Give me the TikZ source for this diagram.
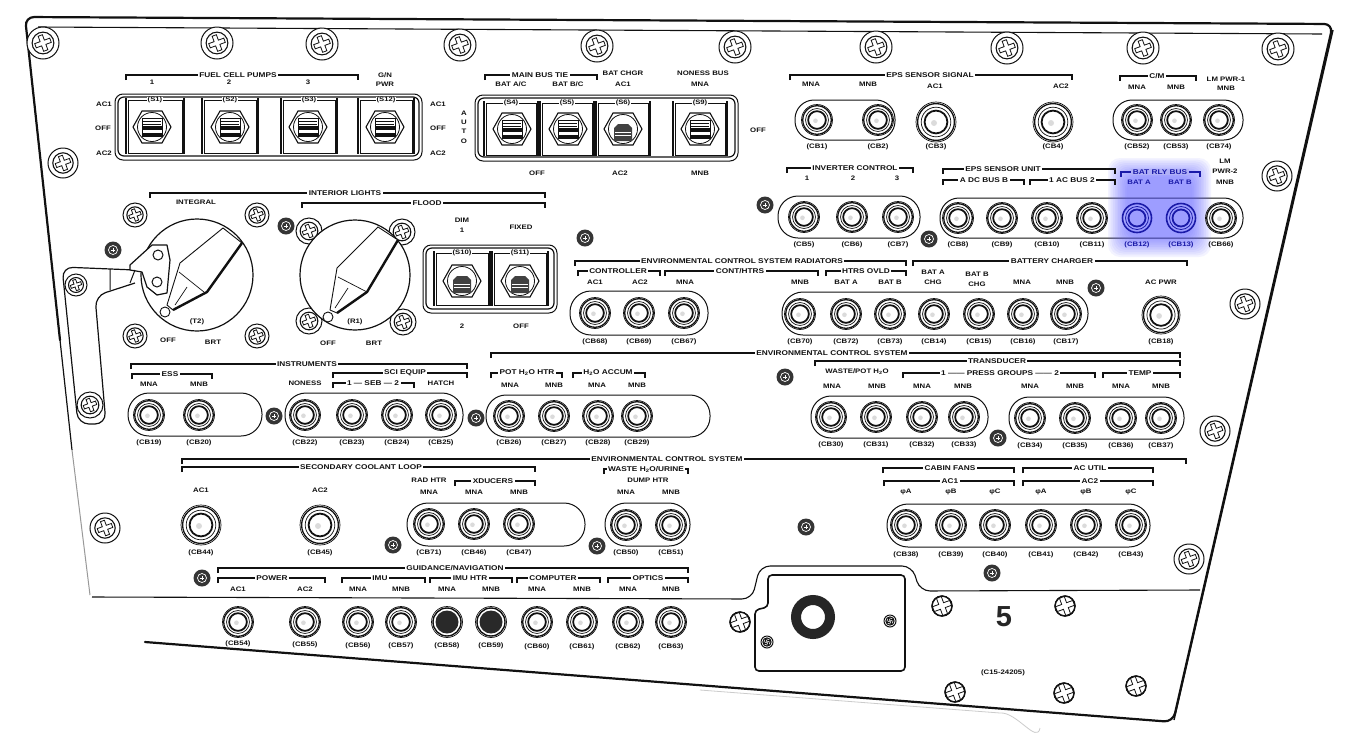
\documentclass[tikz,border=0pt]{standalone}
\usepackage{fontspec}
\setmainfont{Liberation Sans}
\newfontfamily\plab[FakeStretch=1.2]{Liberation Sans}
\definecolor{panelink}{HTML}{111111}
\definecolor{glowblue}{HTML}{1A1AA8}
\definecolor{glowbg}{HTML}{B0B0F6}
\colorlet{ink}{panelink}
\colorlet{bg}{white}
\newcount\pn
% text
\newcommand\ptx[3]{\global\advance\pn by 1 \node[text=ink,inner sep=0pt,font=\plab\fontsize{6.5}{7}\selectfont\bfseries] (t\the\pn) at (#1,#2) {#3};}
% bracket
\newcommand\pbr[5]{\draw[ink,line width=1.1pt] (#1,#2) ++(0,5) -- ++(0,-5) -- (#3,#2) -- ++(0,5);
 \global\advance\pn by 1 \node[fill=bg,text=ink,inner ysep=0.5pt,inner xsep=1.5pt,font=\plab\fontsize{6.9}{7}\selectfont\bfseries] (t\the\pn) at (#4,#2) {#5};}
% ring screw
\newcommand\pcross[3]{\begin{scope}[shift={(#1,#2)},rotate=20]
 \draw[ink,line width=0.8pt,fill=white] (-#3,-0.28*#3) -- (-0.28*#3,-0.28*#3) -- (-0.28*#3,-#3) -- (0.28*#3,-#3) -- (0.28*#3,-0.28*#3) -- (#3,-0.28*#3) -- (#3,0.28*#3) -- (0.28*#3,0.28*#3) -- (0.28*#3,#3) -- (-0.28*#3,#3) -- (-0.28*#3,0.28*#3) -- (-#3,0.28*#3) -- cycle;
 \end{scope}}
\newcommand\pscrew[3]{\draw[ink,line width=1pt,fill=white] (#1,#2) circle[radius=#3];
 \draw[ink,line width=1.1pt] (#1,#2) circle[radius=0.68*#3];
 \pcross{#1}{#2}{0.5*#3}}
% plain screw
\newcommand\pplain[3]{\draw[ink,line width=1.3pt,fill=white] (#1,#2) circle[radius=#3];
 \pcross{#1}{#2}{0.92*#3}
 \draw[ink,line width=1.3pt] (#1,#2) circle[radius=#3];}
% dark screw
\newcommand\pdark[2]{\fill[ink!85] (#1,#2) circle[radius=8.5];
 \draw[white,line width=0.7pt] (#1,#2) circle[radius=4.5];
 \draw[white,line width=0.7pt] (#1,#2) ++(-2,0) -- ++(4,0) (#1,#2) ++(0,-2) -- ++(0,4);}
% breaker: [radius]{x}{y}{label y}{label}
\newcommand\pcb[5][15.5]{\draw[ink,line width=0.7pt,fill=white] (#2,#3) circle[radius=#1];
 \draw[ink,line width=1.3pt] (#2,#3) circle[radius=0.92*#1];
 \draw[ink,line width=0.7pt] (#2,#3) circle[radius=0.74*#1];
 \draw[ink,line width=1.8pt] (#2,#3) circle[radius=0.57*#1];
 \fill[ink,opacity=0.15] (#2,#3) ++(-0.1*#1,0.05*#1) circle[radius=0.15*#1];
 \ptx{#2}{#4}{(#5)}}
\newcommand\pcbd[4]{\draw[ink,line width=0.7pt,fill=white] (#1,#2) circle[radius=15.5];
 \draw[ink,line width=1.4pt] (#1,#2) circle[radius=14];
 \fill[ink!90] (#1,#2) circle[radius=11.5];
 \ptx{#1}{#3}{(#4)}}
% pill
\newcommand\ppill[5]{\draw[ink,line width=1pt,rounded corners=#5pt] (#1,#2) rectangle (#3,#4);}
% switch cell
\newcommand\pcell[5]{\draw[ink,line width=0.9pt] (#1,#2) rectangle (#3,#4);
 \draw[ink,line width=2.2pt] (#1-2,#2-2) -- (#1-2,#4+1) (#3+2,#2-2) -- (#3+2,#4+1);
 \global\advance\pn by 1 \node[fill=white,text=ink,inner ysep=0.3pt,inner xsep=1pt,font=\plab\fontsize{6.4}{7}\selectfont\bfseries] (t\the\pn) at ({0.5*(#1+#3)},#2) {(#5)};}
% hex toggle, lever up
\newcommand\phexbase[2]{\draw[ink,line width=1.1pt,fill=white] (#1-19,#2) -- (#1-10,#2-16) -- (#1+10,#2-16) -- (#1+19,#2) -- (#1+10,#2+16) -- (#1-10,#2+16) -- cycle;
 \draw[ink,line width=0.8pt] (#1,#2) circle[radius=14.5];}
\newcommand\phex[2]{\phexbase{#1}{#2}
 \draw[ink,line width=0.8pt] (#1-10,#2-9) rectangle (#1+10,#2+9);
 \fill[ink] (#1-10,#2-1) rectangle (#1+10,#2+2.5);
 \fill[ink] (#1-10,#2+6) rectangle (#1+10,#2+9);
 \draw[ink,line width=0.5pt] (#1-9,#2-6) -- (#1+9,#2-6) (#1-9,#2-3) -- (#1+9,#2-3);}
% lever down
\newcommand\phexd[2]{\phexbase{#1}{#2}
 \fill[ink!80] (#1-9,#2-1) -- (#1-5,#2-5) -- (#1+5,#2-5) -- (#1+9,#2-1) -- (#1+9,#2+12) -- (#1-9,#2+12) -- cycle;
 \draw[white,line width=0.5pt] (#1-8,#2+3) -- (#1+8,#2+3) (#1-8,#2+6) -- (#1+8,#2+6);}
\begin{document}
\begin{tikzpicture}[x=1pt,y=-1pt]
\useasboundingbox (0,0) rectangle (1348,737);
\fill[white] (0,0) rectangle (1348,737);
% ---------- panel outline
\draw[panelink,line width=2.2pt,line cap=round,rounded corners=9pt] (60,340) -- (25,17) -- (1333,24) -- (1173,722) -- (145,642);
\draw[panelink,line width=1.4pt] (1333,30) -- (1174,720);
\draw[panelink,line width=1.2pt] (60,340) -- (72,450);
\draw[black!40,line width=1pt] (72,450) -- (90,595);
\draw[panelink,line width=1.1pt] (38,27) -- (1322,34);
\draw[black!20,line width=0.8pt] (700,690) -- (1000,713) to[out=5,in=-100] (1040,728);
% lower plate line with cut-out
\draw[panelink,line width=1.1pt,rounded corners=10pt] (92,597) -- (752,599) -- (760,566) -- (912,566) -- (920,591) -- (1200,590);
% cover plate
\draw[panelink,line width=1.6pt,rounded corners=4pt] (768,575) -- (905,575) -- (905,671) -- (755,671) -- (755,610) -- (768,607) -- cycle;
\draw[black!85,line width=10pt] (813,617) circle[radius=17];
\pscrew{767}{642}{6}
\pscrew{890}{621}{6}
% ---------- large screws
\pscrew{43}{43}{16}\pscrew{217}{43}{16}\pscrew{322}{44}{16}\pscrew{460}{45}{16}
\pscrew{597}{46}{16}\pscrew{735}{47}{16}\pscrew{876}{47}{16}\pscrew{1007}{48}{16}
\pscrew{1143}{48}{16}\pscrew{1278}{49}{16}
\pscrew{63}{163}{15}\pscrew{1277}{176}{15}\pscrew{1245}{304}{15}\pscrew{1189}{559}{15}
\pscrew{105}{528}{15}\pscrew{90}{405}{13}\pscrew{1215}{431}{15}
% plain screws
\pplain{740}{622}{10}\pplain{942}{606}{10}\pplain{1065}{606}{10}
\pplain{955}{692}{10}\pplain{1064}{693}{10}\pplain{1136}{686}{10}
% dark screws
\pdark{113}{250}\pdark{286}{226}\pdark{585}{238}\pdark{765}{205}\pdark{929}{239}
\pdark{1096}{288}\pdark{785}{377}\pdark{274}{416}\pdark{476}{418}\pdark{998}{438}
\pdark{393}{545}\pdark{597}{546}\pdark{202}{578}\pdark{992}{573}\pdark{806}{527}
% ---------- switch panels
\draw[ink,line width=1pt,rounded corners=8pt] (115,94) rectangle (422,160);
\draw[ink,line width=1.2pt,rounded corners=6pt] (118,97) rectangle (419,156);
\pcell{128}{100}{182}{153}{S1}\pcell{204}{100}{256}{153}{S2}\pcell{283}{100}{335}{153}{S3}\pcell{360}{100}{412}{153}{S12}
\phex{152}{127}\phex{230}{127}\phex{308}{127}\phex{385}{127}
\draw[ink,line width=1pt,rounded corners=8pt] (475,95) rectangle (738,161);
\draw[ink,line width=1.2pt,rounded corners=6pt] (478,98) rectangle (735,157);
\pcell{486}{103}{536}{155}{S4}\pcell{542}{103}{592}{155}{S5}\pcell{598}{103}{648}{155}{S6}\pcell{675}{103}{725}{155}{S9}
\phex{512}{129}\phex{568}{129}\phexd{623}{129}\phex{700}{129}
\draw[ink,line width=1pt,rounded corners=8pt] (423,245) rectangle (557,313);
\draw[ink,line width=1.2pt,rounded corners=6pt] (426,248) rectangle (554,309);
\pcell{436}{253}{488}{305}{S10}\pcell{494}{253}{546}{305}{S11}
\phexd{462}{281}\phexd{520}{281}
% ---------- strap
\draw[ink,line width=1.2pt,rounded corners=11pt] (135,270) -- (62,267) -- (78,424) -- (106,424) -- (95,296) -- (135,283);
\pscrew{76}{285}{11}
% ---------- rotary switches
\pscrew{135}{215}{12}\pscrew{257}{215}{12}\pscrew{135}{336}{12}\pscrew{257}{336}{12}
\pscrew{309}{231}{13}\pscrew{402}{232}{13}\pscrew{309}{321}{13}\pscrew{403}{322}{13}
\draw[ink,line width=1.2pt,fill=white] (197,275) circle[radius=56];
\draw[ink,line width=1.2pt,fill=white] (355,275) circle[radius=55];
\draw[ink,line width=1.2pt,fill=white,line join=round] (130,265) -- (152,245) -- (167,245) -- (170,260) -- (167,293) -- (157,295) -- (147,287) -- (142,272) -- (130,270) -- cycle;
\draw[ink,line width=1pt] (158,255) circle[radius=5] (157,282) circle[radius=5];
\draw[ink,line width=1pt] (135,270) -- (130,283) (110,269) -- (110,290);
\draw[ink,line width=0.9pt,fill=white] (173,310) -- (167,305) -- (180,263) -- (223,228) -- (242,243) -- (207,292) -- cycle;
\draw[ink,line width=2.4pt] (242,243) -- (207,292) -- (173,310);
\draw[ink,line width=0.7pt] (179,272) -- (204,292) (187,287) -- (175,305);
\draw[ink,line width=0.9pt,fill=white] (165,312) circle[radius=5];
\draw[ink,line width=0.9pt,fill=white] (337,313) -- (330,310) -- (337,268) -- (378,227) -- (398,240) -- (367,292) -- cycle;
\draw[ink,line width=2.4pt] (398,240) -- (367,292) -- (337,313);
\draw[ink,line width=0.7pt] (338,277) -- (367,292) (348,288) -- (335,308);
\draw[ink,line width=0.9pt,fill=white] (328,317) circle[radius=5];
% ---------- pills
\ppill{795}{100}{895}{140}{19}\ppill{1113}{100}{1243}{140}{19}
\ppill{778}{196}{920}{238}{20}\ppill{940}{198}{1243}{238}{19}
\ppill{570}{291}{708}{335}{21}\ppill{782}{292}{1088}{335}{21}
\ppill{128}{393}{262}{436}{21}\ppill{285}{393}{463}{437}{21}\ppill{486}{395}{710}{437}{20}
\ppill{811}{396}{988}{438}{20}\ppill{1009}{397}{1184}{439}{20}
\ppill{407}{503}{585}{546}{21}\ppill{605}{503}{690}{546}{21}\ppill{887}{504}{1150}{547}{21}
% ---------- glow
\foreach \g in {0,...,11}{
 \fill[blue!65!white,opacity=0.065,rounded corners=12pt] (1108+\g*1.7,158+\g*1.7) rectangle (1211-\g*1.7,257-\g*1.7);}
% ---------- switch panel labels
\pbr{126}{75}{358}{238}{FUEL CELL PUMPS}
\ptx{152}{82}{1}\ptx{229}{82}{2}\ptx{308}{82}{3}
\ptx{385}{75}{G/N}\ptx{385}{84}{PWR}
\ptx{104}{104}{AC1}\ptx{103}{128}{OFF}\ptx{104}{153}{AC2}
\ptx{438}{104}{AC1}\ptx{438}{128}{OFF}\ptx{438}{153}{AC2}
\pbr{485}{75}{597}{540}{MAIN BUS TIE}
\ptx{511}{84}{BAT A/C}\ptx{568}{84}{BAT B/C}
\ptx{623}{73}{BAT CHGR}\ptx{623}{84}{AC1}
\ptx{703}{73}{NONESS BUS}\ptx{700}{84}{MNA}
\ptx{464}{113}{A}\ptx{464}{122}{U}\ptx{464}{131}{T}\ptx{464}{141}{O}
\ptx{758}{130}{OFF}\ptx{537}{173}{OFF}\ptx{620}{173}{AC2}\ptx{700}{173}{MNB}
% row 1
\pbr{790}{75}{1072}{930}{EPS SENSOR SIGNAL}
\ptx{811}{84}{MNA}\ptx{868}{84}{MNB}\ptx{935}{86}{AC1}\ptx{1061}{86}{AC2}
\pcb{817}{120}{147}{CB1}\pcb{878}{120}{147}{CB2}\pcb[20]{936}{122}{147}{CB3}\pcb[20]{1053}{122}{147}{CB4}
\pbr{1120}{76}{1196}{1157}{C/M}
\ptx{1137}{87}{MNA}\ptx{1176}{87}{MNB}\ptx{1226}{79}{LM PWR-1}\ptx{1226}{88}{MNB}
\pcb{1137}{120}{147}{CB52}\pcb{1176}{120}{147}{CB53}\pcb{1219}{120}{147}{CB74}
% row 2
\pbr{787}{168}{913}{855}{INVERTER CONTROL}
\ptx{807}{178}{1}\ptx{853}{178}{2}\ptx{897}{178}{3}
\pcb{804}{217}{245}{CB5}\pcb{852}{217}{245}{CB6}\pcb{898}{217}{245}{CB7}
\pbr{943}{169}{1115}{1003}{EPS SENSOR UNIT}
\pbr{943}{180}{1024}{984}{A\ DC BUS\ B}
\pbr{1030}{180}{1115}{1072}{1\ AC BUS\ 2}
\pcb{958}{218}{245}{CB8}\pcb{1002}{218}{245}{CB9}\pcb{1047}{218}{245}{CB10}\pcb{1092}{218}{245}{CB11}
\pcb{1221}{218}{245}{CB66}
\ptx{1225}{161}{LM}\ptx{1225}{171}{PWR-2}\ptx{1225}{182}{MNB}
\begin{scope}
\colorlet{ink}{glowblue}\colorlet{bg}{glowbg}
\pbr{1121}{172}{1200}{1160}{BAT RLY BUS}
\ptx{1139}{182}{BAT A}\ptx{1180}{182}{BAT B}
\draw[ink,line width=1.6pt] (1137,218) circle[radius=14.5] (1181,218) circle[radius=14.5];
\draw[ink,line width=0.8pt] (1137,218) circle[radius=11.5] (1181,218) circle[radius=11.5];
\draw[ink,line width=1.8pt] (1137,218) circle[radius=8.5] (1181,218) circle[radius=8.5];
\ptx{1137}{245}{(CB12)}\ptx{1181}{245}{(CB13)}
\end{scope}
% interior lights
\pbr{150}{193}{545}{345}{INTERIOR LIGHTS}
\pbr{302}{203}{545}{427}{FLOOD}
\ptx{196}{202}{INTEGRAL}\ptx{197}{322}{(T2)}\ptx{168}{340}{OFF}\ptx{213}{342}{BRT}
\ptx{355}{322}{(R1)}\ptx{328}{343}{OFF}\ptx{374}{343}{BRT}
\ptx{462}{220}{DIM}\ptx{462}{230}{1}\ptx{521}{227}{FIXED}\ptx{462}{326}{2}\ptx{521}{326}{OFF}
% row 3
\pbr{575}{261}{906}{742}{ENVIRONMENTAL CONTROL SYSTEM RADIATORS}
\pbr{578}{271}{660}{618}{CONTROLLER}
\pbr{665}{271}{818}{740}{CONT/HTRS}
\pbr{826}{271}{906}{866}{HTRS OVLD}
\pbr{913}{261}{1187}{1052}{BATTERY CHARGER}
\ptx{595}{282}{AC1}\ptx{640}{282}{AC2}\ptx{685}{282}{MNA}\ptx{800}{282}{MNB}\ptx{846}{282}{BAT A}\ptx{890}{282}{BAT B}
\ptx{933}{272}{BAT A}\ptx{933}{282}{CHG}\ptx{977}{274}{BAT B}\ptx{977}{284}{CHG}\ptx{1022}{282}{MNA}\ptx{1065}{282}{MNB}\ptx{1161}{282}{AC PWR}
\pcb{595}{313}{342}{CB68}\pcb{639}{313}{342}{CB69}\pcb{684}{313}{342}{CB67}
\pcb{800}{314}{342}{CB70}\pcb{846}{314}{342}{CB72}\pcb{890}{314}{342}{CB73}\pcb{934}{314}{342}{CB14}\pcb{979}{314}{342}{CB15}\pcb{1023}{314}{342}{CB16}\pcb{1066}{314}{342}{CB17}
\pcb[19]{1161}{315}{342}{CB18}
% row 4
\pbr{131}{364}{467}{307}{INSTRUMENTS}
\pbr{132}{374}{212}{170}{ESS}
\ptx{149}{384}{MNA}\ptx{199}{384}{MNB}\ptx{305}{383}{NONESS}
\pbr{333}{373}{467}{405}{SCI EQUIP}
\pbr{333}{383}{414}{373}{1 — SEB — 2}
\ptx{441}{383}{HATCH}
\pbr{491}{353}{1180}{832}{ENVIRONMENTAL CONTROL SYSTEM}
\pbr{491}{373}{562}{527}{POT H\textsubscript{2}O HTR}
\pbr{573}{373}{645}{608}{H\textsubscript{2}O ACCUM}
\ptx{510}{385}{MNA}\ptx{554}{385}{MNB}\ptx{597}{385}{MNA}\ptx{637}{385}{MNB}
\pbr{815}{361}{1180}{997}{TRANSDUCER}
\ptx{857}{372}{WASTE/POT H\textsubscript{2}O}
\pbr{903}{373}{1095}{1000}{1 —— PRESS GROUPS —— 2}
\pbr{1103}{373}{1180}{1140}{TEMP}
\ptx{832}{386}{MNA}\ptx{877}{386}{MNB}\ptx{922}{386}{MNA}\ptx{963}{386}{MNB}\ptx{1030}{386}{MNA}\ptx{1075}{386}{MNB}\ptx{1121}{386}{MNA}\ptx{1161}{386}{MNB}
\pcb{149}{415}{443}{CB19}\pcb{199}{415}{443}{CB20}
\pcb{305}{415}{443}{CB22}\pcb{352}{415}{443}{CB23}\pcb{397}{415}{443}{CB24}\pcb{441}{415}{443}{CB25}
\pcb{509}{416}{443}{CB26}\pcb{554}{416}{443}{CB27}\pcb{598}{416}{443}{CB28}\pcb{637}{416}{443}{CB29}
\pcb{831}{417}{445}{CB30}\pcb{876}{417}{445}{CB31}\pcb{922}{417}{445}{CB32}\pcb{964}{417}{445}{CB33}
\pcb{1030}{418}{446}{CB34}\pcb{1075}{418}{446}{CB35}\pcb{1121}{418}{446}{CB36}\pcb{1161}{418}{446}{CB37}
% row 5
\pbr{182}{459}{1186}{667}{ENVIRONMENTAL CONTROL SYSTEM}
\pbr{182}{467}{535}{361}{SECONDARY COOLANT LOOP}
\ptx{201}{490}{AC1}\ptx{320}{490}{AC2}
\ptx{429}{480}{RAD HTR}\ptx{429}{492}{MNA}
\pbr{455}{481}{535}{493}{XDUCERS}
\ptx{474}{492}{MNA}\ptx{519}{492}{MNB}
\pbr{604}{469}{688}{646}{WASTE H\textsubscript{2}O/URINE}
\ptx{648}{480}{DUMP HTR}\ptx{626}{492}{MNA}\ptx{671}{492}{MNB}
\pcb[20]{201}{525}{553}{CB44}\pcb[20]{320}{525}{553}{CB45}
\pcb{429}{524}{553}{CB71}\pcb{474}{524}{553}{CB46}\pcb{519}{524}{553}{CB47}
\pcb{626}{525}{553}{CB50}\pcb{671}{525}{553}{CB51}
\pbr{883}{468}{1014}{950}{CABIN FANS}
\pbr{884}{481}{1014}{950}{AC1}
\pbr{1023}{468}{1153}{1090}{AC UTIL}
\pbr{1023}{481}{1153}{1090}{AC2}
\ptx{906}{492}{φA}\ptx{951}{492}{φB}\ptx{995}{492}{φC}\ptx{1041}{492}{φA}\ptx{1086}{492}{φB}\ptx{1131}{492}{φC}
\pcb{906}{525}{555}{CB38}\pcb{951}{525}{555}{CB39}\pcb{995}{525}{555}{CB40}\pcb{1041}{525}{555}{CB41}\pcb{1086}{525}{555}{CB42}\pcb{1131}{525}{555}{CB43}
% row 6
\pbr{218}{568}{688}{455}{GUIDANCE/NAVIGATION}
\pbr{218}{578}{325}{272}{POWER}
\pbr{342}{578}{425}{380}{IMU}
\pbr{430}{578}{512}{470}{IMU HTR}
\pbr{517}{578}{600}{553}{COMPUTER}
\pbr{608}{578}{688}{648}{OPTICS}
\ptx{238}{589}{AC1}\ptx{305}{589}{AC2}\ptx{358}{589}{MNA}\ptx{401}{589}{MNB}\ptx{447}{589}{MNA}\ptx{491}{589}{MNB}\ptx{537}{589}{MNA}\ptx{582}{589}{MNB}\ptx{628}{589}{MNA}\ptx{671}{589}{MNB}
\pcb{238}{622}{644}{CB54}\pcb{305}{622}{645}{CB55}\pcb{358}{622}{646}{CB56}\pcb{401}{622}{646}{CB57}
\pcbd{447}{622}{646}{CB58}\pcbd{491}{622}{646}{CB59}
\pcb{537}{622}{647}{CB60}\pcb{582}{622}{647}{CB61}\pcb{628}{622}{647}{CB62}\pcb{671}{622}{647}{CB63}
% legends
\global\advance\pn by 1 \node[text=black!85,inner sep=0pt,font=\fontsize{29}{30}\selectfont\bfseries] (t\the\pn) at (1004,617) {5};
\ptx{1003}{673}{(C15-24205)}
\end{tikzpicture}
\end{document}
